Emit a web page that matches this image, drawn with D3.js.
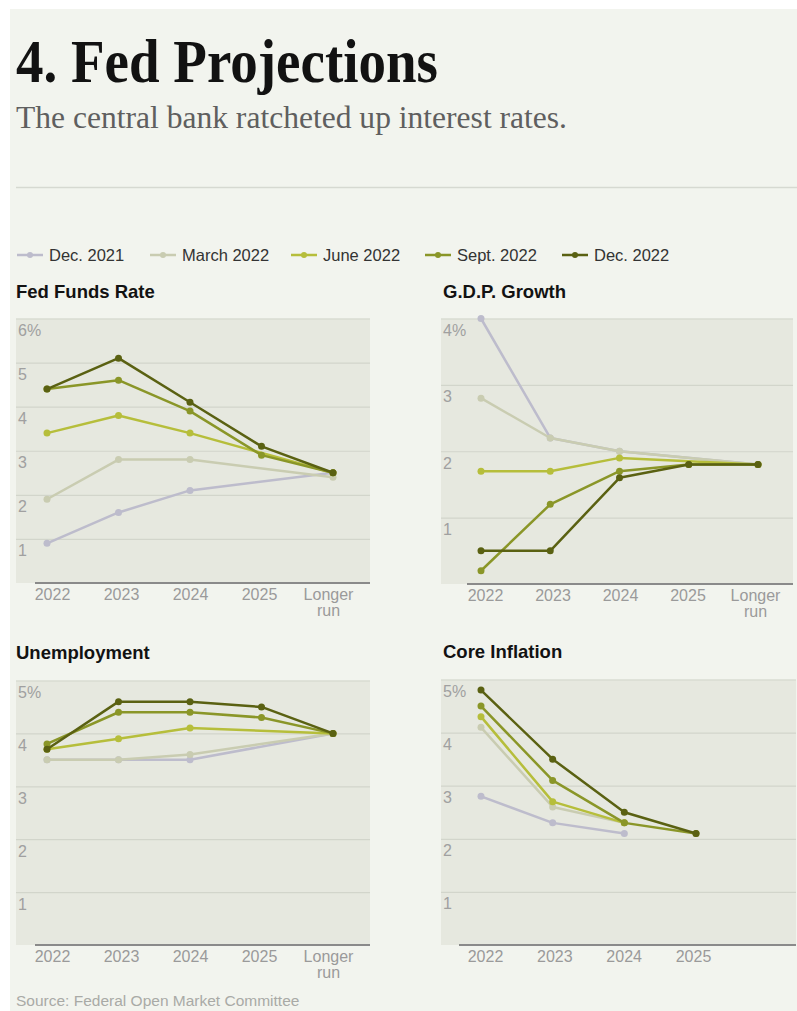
<!DOCTYPE html>
<html>
<head>
<meta charset="utf-8">
<script src="https://cdn.jsdelivr.net/npm/d3@7"></script>
<style>
  body { margin: 0; background: #fff; }
  svg { display: block; }
  text { font-family: "Liberation Sans", Arial, sans-serif; }
</style>
</head>
<body>
<div id="chart"></div>
<script>
// series (one per FOMC meeting)
const seriesNames = ["Dec. 2021", "March 2022", "June 2022", "Sept. 2022", "Dec. 2022"];
const seriesColors = ["#bdbccc", "#c9ccb1", "#b6be3b", "#8a9628", "#5a6112"];

// x categories
const yearsLong = ["2022", "2023", "2024", "2025", "Longer run"];
const yearsCore = ["2022", "2023", "2024", "2025"];

// values, same order as seriesNames (null = no projection)
const fedFundsValues = [
    [0.9, 1.6, 2.1, null, 2.5],
    [1.9, 2.8, 2.8, null, 2.4],
    [3.4, 3.8, 3.4, null, 2.5],
    [4.4, 4.6, 3.9, 2.9, 2.5],
    [4.4, 5.1, 4.1, 3.1, 2.5]
];
const gdpValues = [
    [4.0, 2.2, 2.0, null, 1.8],
    [2.8, 2.2, 2.0, null, 1.8],
    [1.7, 1.7, 1.9, null, 1.8],
    [0.2, 1.2, 1.7, 1.8, 1.8],
    [0.5, 0.5, 1.6, 1.8, 1.8]
];
const unemploymentValues = [
    [3.5, 3.5, 3.5, null, 4.0],
    [3.5, 3.5, 3.6, null, 4.0],
    [3.7, 3.9, 4.1, null, 4.0],
    [3.8, 4.4, 4.4, 4.3, 4.0],
    [3.7, 4.6, 4.6, 4.5, 4.0]
];
const coreInflationValues = [
    [2.8, 2.3, 2.1, null],
    [4.1, 2.6, 2.3, null],
    [4.3, 2.7, 2.3, null],
    [4.5, 3.1, 2.3, 2.1],
    [4.8, 3.5, 2.5, 2.1]
];

// y tick labels
const fedTicks = [1, 2, 3, 4, 5, 6];
const gdpTicks = [1, 2, 3, 4];
const fiveTicks = [1, 2, 3, 4, 5];

const W = 797, H = 1011;

let svg = d3.select("#chart")
    .append("svg")
    .attr("width", W)
    .attr("height", H);

// page panel
svg.append("rect")
    .attr("x", 10).attr("y", 9)
    .attr("width", W - 10).attr("height", H - 9)
    .attr("fill", "#f2f4ee");

// headline
svg.append("text")
    .attr("x", 16).attr("y", 82)
    .attr("textLength", 422)
    .attr("lengthAdjust", "spacingAndGlyphs")
    .style("font-family", "'Liberation Serif', 'DejaVu Serif', serif")
    .style("font-weight", "bold")
    .style("font-size", "62px")
    .attr("fill", "#121212")
    .text("4. Fed Projections");

svg.append("text")
    .attr("x", 16).attr("y", 128)
    .attr("textLength", 551)
    .attr("lengthAdjust", "spacingAndGlyphs")
    .style("font-family", "'Liberation Serif', 'DejaVu Serif', serif")
    .style("font-size", "32px")
    .attr("fill", "#5f5f5f")
    .text("The central bank ratcheted up interest rates.");

svg.append("line")
    .attr("x1", 16).attr("x2", W)
    .attr("y1", 187.5).attr("y2", 187.5)
    .attr("stroke", "#d6d9d1")
    .attr("stroke-width", 1.5);

// legend
const legendX = [17, 150, 291, 425, 562];
let legend = svg.selectAll("g.legend")
    .data(seriesNames)
    .enter()
    .append("g")
    .attr("class", "legend")
    .attr("transform", (d, i) => "translate(" + legendX[i] + ",255)");

legend.append("line")
    .attr("x1", 0).attr("x2", 26)
    .attr("stroke", (d, i) => seriesColors[i])
    .attr("stroke-width", 2.5);
legend.append("circle")
    .attr("cx", 13).attr("r", 3)
    .attr("fill", (d, i) => seriesColors[i]);
legend.append("text")
    .attr("x", 32)
    .attr("dy", "0.35em")
    .style("font-size", "16.5px")
    .attr("fill", "#333")
    .text(d => d);

// small multiples
const panels = [
    { title: "Fed Funds Rate", titleX: 16, titleY: 298, cats: yearsLong, values: fedFundsValues,
      ticks: fedTicks, max: 6, left: 16, right: 370, top: 318.5, bottom: 583,
      axisStart: 35, pts: [47, 333], labs: [52, 328] },
    { title: "G.D.P. Growth", titleX: 443, titleY: 298, cats: yearsLong, values: gdpValues,
      ticks: gdpTicks, max: 4, left: 441, right: 793, top: 318.5, bottom: 584,
      axisStart: 467, pts: [481, 758], labs: [485, 755] },
    { title: "Unemployment", titleX: 16, titleY: 659, cats: yearsLong, values: unemploymentValues,
      ticks: fiveTicks, max: 5, left: 16, right: 370, top: 680.5, bottom: 945,
      axisStart: 35, pts: [47, 333], labs: [52, 328] },
    { title: "Core Inflation", titleX: 443, titleY: 658, cats: yearsCore, values: coreInflationValues,
      ticks: fiveTicks, max: 5, left: 441, right: 796, top: 679.5, bottom: 945,
      axisStart: 459, pts: [481, 696], labs: [485, 693] }
];

panels.forEach(function(p) {
    let g = svg.append("g");

    g.append("text")
        .attr("x", p.titleX).attr("y", p.titleY)
        .style("font-size", "18.5px")
        .style("font-weight", "bold")
        .attr("fill", "#121212")
        .text(p.title);

    // plot background
    g.append("rect")
        .attr("x", p.left).attr("y", p.top)
        .attr("width", p.right - p.left)
        .attr("height", p.bottom - p.top)
        .attr("fill", "#e6e8df");

    let y = d3.scaleLinear()
        .domain([0, p.max])
        .range([p.bottom, p.top]);
    let x = d3.scalePoint()
        .domain(p.cats)
        .range(p.pts);
    let xLab = d3.scalePoint()
        .domain(p.cats)
        .range(p.labs);

    // gridlines + y labels
    let yAxis = g.append("g")
        .attr("transform", "translate(" + p.left + ",0)")
        .call(d3.axisRight(y)
            .tickValues(p.ticks)
            .tickSize(p.right - p.left)
            .tickFormat(d => d === p.max ? d + "%" : d));
    yAxis.select(".domain").remove();
    yAxis.selectAll(".tick line")
        .attr("stroke", "#d2d5cb")
        .attr("stroke-width", 1.2);
    yAxis.selectAll(".tick text")
        .attr("x", 2)
        .attr("dy", 17)
        .style("font-size", "16px")
        .style("font-family", "'Liberation Sans', Arial, sans-serif")
        .attr("fill", "#a0a0a0");

    // baseline
    g.append("line")
        .attr("x1", p.axisStart).attr("x2", p.right)
        .attr("y1", p.bottom).attr("y2", p.bottom)
        .attr("stroke", "#8a8a8a")
        .attr("stroke-width", 2);

    // x labels
    let xAxis = g.append("g")
        .attr("transform", "translate(0," + p.bottom + ")")
        .call(d3.axisBottom(xLab).tickSize(0).tickFormat(""));
    xAxis.select(".domain").remove();
    xAxis.selectAll(".tick")
        .append("text")
        .attr("text-anchor", "middle")
        .style("font-size", "16px")
        .attr("fill", "#9a9a9a")
        .each(function(d) {
            let words = d === "Longer run" ? ["Longer", "run"] : [d];
            d3.select(this).selectAll("tspan")
                .data(words)
                .enter()
                .append("tspan")
                .attr("x", 0)
                .attr("y", (w, i) => 17 + i * 16)
                .text(w => w);
        });

    // lines + dots
    let line = d3.line()
        .x(d => x(d.cat))
        .y(d => y(d.v));

    p.values.forEach(function(vals, i) {
        let pts = vals.map((v, j) => ({ cat: p.cats[j], v: v }))
            .filter(d => d.v !== null);

        g.append("path")
            .datum(pts)
            .attr("d", line)
            .attr("fill", "none")
            .attr("stroke", seriesColors[i])
            .attr("stroke-width", 2.5)
            .attr("stroke-linejoin", "round");

        g.selectAll(null)
            .data(pts)
            .enter()
            .append("circle")
            .attr("cx", d => x(d.cat))
            .attr("cy", d => y(d.v))
            .attr("r", 3.5)
            .attr("fill", seriesColors[i]);
    });
});

// source
svg.append("text")
    .attr("x", 16).attr("y", 1006)
    .style("font-size", "15.5px")
    .attr("fill", "#a9aaa6")
    .text("Source: Federal Open Market Committee");
</script>
</body>
</html>
